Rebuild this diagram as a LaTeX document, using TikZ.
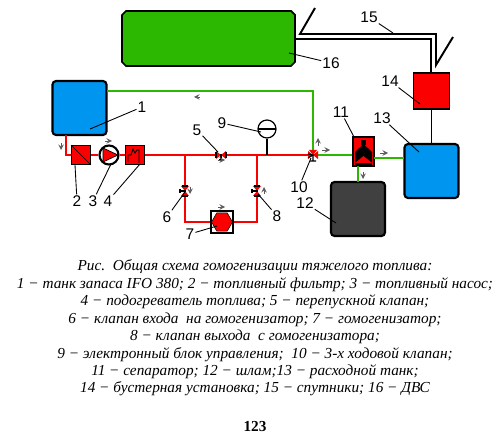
\documentclass[tikz,border=0pt]{standalone}
\usepackage{fontspec}
\setmainfont{Liberation Serif}
\setsansfont{Liberation Sans}
\usetikzlibrary{shapes.geometric}
\definecolor{tankblue}{RGB}{0,150,240}
\definecolor{pipegreen}{RGB}{44,184,0}
\definecolor{pipered}{RGB}{250,0,0}
\definecolor{sludge}{RGB}{64,64,64}
\tikzset{
	tank/.style={draw=black, line width=1.2pt, rounded corners=2pt, minimum size=1.08cm, inner sep=0, fill=tankblue},
	redbox/.style={draw=black, line width=0.8pt, fill=pipered, minimum size=0.38cm, inner sep=0},
	redpipe/.style={draw=pipered, line width=1.5pt},
	greenpipe/.style={draw=pipegreen, line width=1pt},
	blackpipe/.style={draw=black, line width=1.1pt},
	num/.style={font=\sffamily\fontsize{8.8}{10}\selectfont, inner sep=0.5pt},
	leader/.style={draw=black, line width=0.5pt},
	flow/.style={->, >=stealth, draw=black!65, line width=0.4pt},
	caption/.style={font=\itshape\fontsize{8.7}{10}\selectfont, inner sep=0},
	valve/.pic={
		\fill[pipered] (-4,-5) -- (4,-5) -- (0,0) -- cycle;
		\fill[pipered] (-4,5) -- (4,5) -- (0,0) -- cycle;
		\draw[black, line width=0.6pt] (-5,-2) -- (-5,2) (-5,0) -- (1,0) (-3,-5) -- (3,-5) (-3,5) -- (3,5);
	},
	wayvalve/.pic={
		\fill[pipered] (-5,-4) -- (-5,4) -- (0,0) -- cycle;
		\fill[pipered] (5,-4) -- (5,4) -- (0,0) -- cycle;
		\fill[pipered] (-4,-5) -- (4,-5) -- (0,0) -- cycle;
		\draw[black, line width=0.6pt] (0,0) -- (0,6) (-3,6) -- (3,6) (-5,-1) -- (0,0) -- (-5,3);
	}
}
\begin{document}
\begin{tikzpicture}[x=0.02cm, y=-0.02cm]
	\useasboundingbox (0,0) rectangle (500,442);
	% where the pipes turn
	\coordinate (v5) at (221,155);
	\coordinate (v6) at (185,191);
	\coordinate (v8) at (257,191);
	\coordinate (v10) at (313,155);
	\coordinate (t6) at (185,155);
	\coordinate (t8) at (257,155);
	\coordinate (t9) at (267,155);
	\coordinate (c10) at (313,91);
	\coordinate (g1) at (107,91);
	\coordinate (r1) at (66,135);
	\coordinate (s11) at (374,158);
	\coordinate (s13) at (404,158);
	\coordinate (b11) at (358,166);
	\coordinate (b12) at (358,182);
	\node [tank] (tank1) at (79.5,108) {};
	\node [tank] (tank13) at (431.5,171) {};
	\node [tank, fill=sludge] (sludge12) at (358,209) {};
	\node [redbox, minimum size=0.72cm] (boost14) at (431.5,91) {};
	\node [redbox] (filter2) at (81,155) {};
	\node [redbox] (heater4) at (135,155) {};
	\node [draw=black, line width=1.2pt, circle, fill=white, minimum size=0.38cm, inner sep=0] (pump3) at (109,155) {};
	\node [draw=black, line width=1.1pt, fill=white, minimum size=0.43cm, inner sep=0] (hom7) at (222,222) {};
	\node [draw=black, line width=0.9pt, fill=pipered, minimum width=0.42cm, minimum height=0.58cm, inner sep=0] (sep11) at (363.5,151.5) {};
	\node [draw=black, line width=0.7pt, circle, fill=white, minimum size=0.36cm, inner sep=0] (gauge9) at (267,129) {};
	\node [minimum width=3.46cm, minimum height=1.1cm, inner sep=0] (engine16) at (208.5,38.5) {};
	\draw [line width=1pt, fill=pipegreen] (126,11) -- (291,11) -- (295,15) -- (295,62) -- (291,66) -- (126,66) -- (122,62) -- (122,15) -- cycle;
	\draw [redpipe] (r1) |- (filter2.west);
	\draw [redpipe] (filter2) -- (pump3) (pump3) -- (heater4) (heater4) -- (v10);
	\draw [redpipe] (t6) -- (v6) |- (hom7.west);
	\draw [redpipe] (t8) -- (v8) |- (hom7.east);
	\draw [greenpipe] (g1) -- (c10) -- (v10) -- (sep11.west |- v10);
	\draw [greenpipe] (s11) -- (s13);
	\draw [greenpipe] (b11) -- (b12);
	\draw [blackpipe] (gauge9) -- (t9);
	\draw [blackpipe] (tank13.north) -- (boost14.south);
	% symbols inside the boxes
	\draw [black, line width=0.4pt] (71,145) -- (91,165);
	\fill [pipered, draw=black, line width=0.4pt] (103,148) -- (118,155) -- (103,162) -- cycle;
	\draw [black, line width=0.5pt] (128,162) -- (128,155) -- (131,155) -- (133,149) -- (135,153) -- (137,150) -- (139,150) -- (139,163);
	\node [regular polygon, regular polygon sides=6, fill=pipered, draw=black, line width=0.3pt, minimum size=0.42cm, inner sep=0] (hex7) at (hom7) {};
	\fill [black] (355,152) -- (363.5,144) -- (372,152) -- (372,165) -- (355,165) -- cycle;
	\fill [black] (361,140) rectangle (366,145);
	\fill [pipered] (363.5,156) -- (372,163) -- (355,163) -- cycle;
	\draw [black, line width=0.7pt] (258,129) -- (276,129);
	% two lines of the steam pipe
	\coordinate (p15a) at (315,8);
	\coordinate (p15b) at (300,34);
	\coordinate (p15c) at (436,34);
	\coordinate (p15d) at (436,65);
	\coordinate (p15e) at (453,37);
	\coordinate (p15f) at (431,39);
	\draw [blackpipe] (p15a) -- (p15b) -- (p15c) -- (p15d) -- (p15e);
	\draw [blackpipe] (engine16.east |- p15f) -- (p15f) -- (boost14.north -| p15f);
	% valves
	\pic at (v6) {valve};
	\pic at (v8) {valve};
	\pic [rotate=90] at (v5) {valve};
	\pic at (v10) {wayvalve};
	% small flow marks
	\foreach \xa/\ya/\xb/\yb in {61/143/61/150, 105/141/112/141, 200/97/194/97, 218/160/225/160, 218/207/225/207, 190/187/190/194, 264/194/264/187, 318/146/318/138, 322/150/330/150, 380/153/388/153, 363/172/363/179}{
		\draw [flow] (\xa,\ya) -- (\xb,\yb);
	}
	% numbers and leaders
	\foreach \n/\tx/\ty/\ex/\ey in {1/142/107/90/129, 2/77/201/75/165, 3/93/201/111/164, 4/108/201/140/164, 5/197/130/218/152, 6/167/217/185/192, 7/190/234/217/226, 8/277/216/258/194, 9/222/123/261/132, 10/299/187/311/158, 11/341/112/354/137, 12/305/203/336/223, 13/382/118/419/152, 14/390/81/420/104, 15/369/17/393/33, 16/331/63/289/53}{
		\node [num] (n\n) at (\tx,\ty) {\n};
		\coordinate (e\n) at (\ex,\ey);
		\draw [leader] (n\n) -- (e\n);
	}
	% caption
	\node [caption] (cap0) at (255,267) {Рис.\ \ Общая схема гомогенизации тяжелого топлива:};
	\node [caption] (cap1) at (255,285) {1 − танк запаса IFO 380; 2 − топливный фильтр; 3 − топливный насос;};
	\node [caption] (cap2) at (255,302) {4 − подогреватель топлива; 5 − перепускной клапан;};
	\node [caption] (cap3) at (255,320) {6 − клапан входа\ \ на гомогенизатор; 7 − гомогенизатор;};
	\node [caption] (cap4) at (255,337) {8 − клапан выхода\ \ с гомогенизатора;};
	\node [caption] (cap5) at (255,355) {9 − электронный блок управления;\ \ 10 − 3-х ходовой клапан;};
	\node [caption] (cap6) at (255,372) {11 − сепаратор; 12 − шлам;13 − расходной танк;};
	\node [caption] (cap7) at (255,389) {14 − бустерная установка; 15 − спутники; 16 − ДВС};
	\node [font=\bfseries\fontsize{8.7}{10}\selectfont, inner sep=0] (page) at (255,427) {123};
\end{tikzpicture}
\end{document}
